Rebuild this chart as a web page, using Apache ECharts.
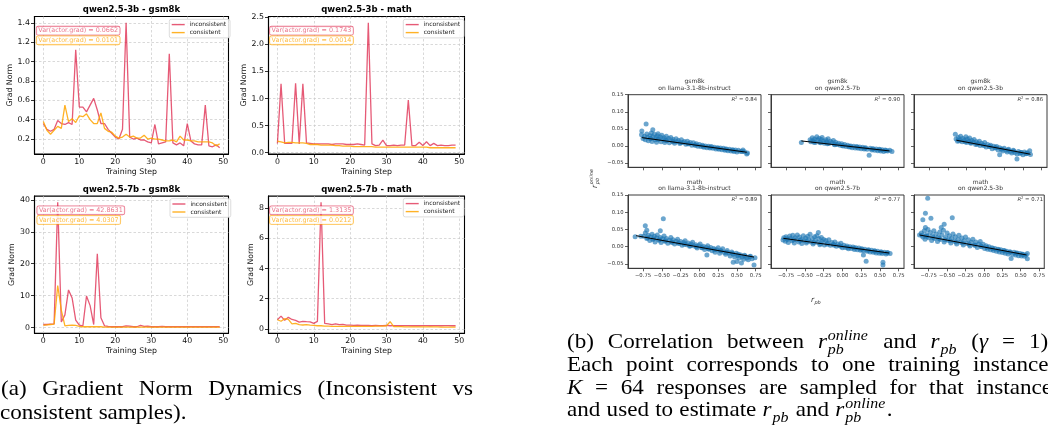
<!DOCTYPE html>
<html>
<head>
<meta charset="utf-8">
<script src="https://cdn.jsdelivr.net/npm/echarts@6.0.0/dist/echarts.min.js"></script>
<style>
html,body{margin:0;padding:0;background:#fff;}
#chart{width:1048px;height:433px;}
</style>
</head>
<body>
<div id="chart"></div>
<script>
// ================= DATA: gradient-norm panels =================
const steps = Array.from({length: 50}, (_, i) => i);
const stepTicks = [0, 10, 20, 30, 40, 50];

const qwen3bGsmInconsistent = [0.36,0.30,0.28,0.30,0.39,0.36,0.35,0.37,0.35,1.12, 0.53,0.53,0.48,0.55,0.62,0.50,0.36,0.36,0.30,0.26, 0.22,0.20,0.30,1.40,0.22,0.20,0.21,0.19,0.19,0.17, 0.16,0.35,0.15,0.16,0.17,1.08,0.16,0.14,0.16,0.13, 0.36,0.18,0.15,0.14,0.14,0.55,0.13,0.12,0.14,0.11];
const qwen3bGsmConsistent = [0.38,0.29,0.25,0.29,0.33,0.31,0.55,0.38,0.41,0.37, 0.44,0.43,0.46,0.40,0.36,0.36,0.47,0.31,0.28,0.27, 0.23,0.21,0.22,0.25,0.22,0.23,0.21,0.21,0.24,0.20, 0.21,0.20,0.20,0.19,0.18,0.18,0.19,0.17,0.23,0.19, 0.19,0.18,0.18,0.17,0.17,0.17,0.17,0.16,0.13,0.15];
const qwen3bMathInconsistent = [0.17,1.27,0.17,0.17,0.17,1.28,0.16,1.27,0.18,0.17, 0.16,0.16,0.16,0.16,0.16,0.15,0.16,0.16,0.16,0.15, 0.15,0.15,0.16,0.15,0.14,2.40,0.16,0.13,0.14,0.23, 0.13,0.13,0.14,0.13,0.14,0.14,0.97,0.13,0.13,0.19, 0.13,0.20,0.13,0.17,0.13,0.14,0.13,0.13,0.14,0.14];
const qwen3bMathConsistent = [0.21,0.20,0.18,0.19,0.19,0.18,0.18,0.18,0.17,0.15, 0.15,0.15,0.14,0.14,0.14,0.14,0.13,0.13,0.12,0.12, 0.12,0.11,0.11,0.11,0.11,0.11,0.11,0.10,0.10,0.10, 0.10,0.10,0.10,0.10,0.10,0.10,0.10,0.10,0.10,0.10, 0.10,0.10,0.09,0.09,0.09,0.09,0.09,0.09,0.09,0.09];
const qwen7bGsmInconsistent = [1.0,1.0,1.1,1.2,39.2,1.8,4.0,11.8,9.3,2.4, 0.8,0.6,9.9,6.9,1.0,23.1,3.1,0.6,0.4,0.3, 0.3,0.3,0.3,0.6,0.5,0.3,0.3,0.7,0.4,0.5, 0.3,0.3,0.3,0.4,0.3,0.3,0.3,0.3,0.3,0.3, 0.3,0.3,0.3,0.3,0.3,0.3,0.3,0.3,0.3,0.3];
const qwen7bGsmConsistent = [0.7,0.9,1.0,1.1,13.2,5.5,0.6,0.7,0.8,0.7, 0.4,0.3,0.3,0.3,0.3,0.3,0.3,0.2,0.2,0.2, 0.2,0.2,0.2,0.2,0.2,0.2,0.2,0.2,0.2,0.2, 0.2,0.2,0.2,0.2,0.2,0.2,0.2,0.2,0.2,0.2, 0.2,0.2,0.2,0.2,0.2,0.2,0.2,0.2,0.2,0.2];
const qwen7bMathInconsistent = [0.60,0.84,0.56,0.76,0.62,0.56,0.44,0.49,0.47,0.46, 0.36,0.49,8.40,0.36,0.33,0.27,0.33,0.27,0.29,0.24, 0.24,0.22,0.24,0.23,0.22,0.22,0.21,0.22,0.21,0.21, 0.22,0.20,0.21,0.21,0.20,0.21,0.21,0.20,0.21,0.20, 0.21,0.21,0.20,0.21,0.21,0.20,0.21,0.21,0.20,0.20];
const qwen7bMathConsistent = [0.60,0.50,0.67,0.62,0.33,0.36,0.27,0.25,0.27,0.24, 0.22,0.20,0.20,0.18,0.17,0.16,0.16,0.16,0.16,0.16, 0.16,0.16,0.16,0.16,0.16,0.16,0.16,0.17,0.18,0.18, 0.20,0.47,0.15,0.14,0.14,0.13,0.13,0.13,0.13,0.13, 0.12,0.12,0.12,0.12,0.12,0.11,0.11,0.11,0.11,0.11];

const gradTitles = ['qwen2.5-3b - gsm8k', 'qwen2.5-3b - math', 'qwen2.5-7b - gsm8k', 'qwen2.5-7b - math'];
const varInconsistent = ['0.0662', '0.1743', '42.8631', '1.3135'];
const varConsistent = ['0.0101', '0.0014', '4.0307', '0.0212'];
const yTicks3bGsm = [0.2, 0.4, 0.6, 0.8, 1.0, 1.2, 1.4];
const yTicks3bMath = [0.0, 0.5, 1.0, 1.5, 2.0, 2.5];
const yTicks7bGsm = [0, 10, 20, 30, 40];
const yTicks7bMath = [0, 2, 4, 6, 8];

// ================= DATA: correlation panels =================
const corrTitles = [
  ['gsm8k', 'on llama-3.1-8b-instruct'], ['gsm8k', 'on qwen2.5-7b'], ['gsm8k', 'on qwen2.5-3b'],
  ['math', 'on llama-3.1-8b-instruct'], ['math', 'on qwen2.5-7b'], ['math', 'on qwen2.5-3b']
];
const r2Values = ['0.84', '0.90', '0.86', '0.89', '0.77', '0.71'];
const rpbTicks = [-0.75, -0.50, -0.25, 0.00, 0.25, 0.50, 0.75];
const onlineTicks = [-0.05, 0.00, 0.05, 0.10, 0.15];

const ptsGsmLlama = [[-0.77,0.033],[-0.766,0.044],[-0.709,0.064],[-0.62,0.047],[-0.75,0.022],[-0.73,0.028],[-0.72,0.018],[-0.70,0.035],[-0.69,0.025],[-0.68,0.015],[-0.66,0.030],[-0.65,0.021],[-0.64,0.038],[-0.63,0.013],[-0.62,0.027],[-0.60,0.034],[-0.59,0.018],[-0.58,0.024],[-0.57,0.011],[-0.56,0.030],[-0.55,0.036],[-0.54,0.020],[-0.52,0.026],[-0.51,0.012],[-0.50,0.031],[-0.48,0.019],[-0.47,0.024],[-0.46,0.010],[-0.44,0.028],[-0.43,0.016],[-0.41,0.022],[-0.40,0.009],[-0.38,0.025],[-0.36,0.014],[-0.35,0.019],[-0.33,0.008],[-0.31,0.021],[-0.30,0.012],[-0.28,0.016],[-0.26,0.007],[-0.24,0.018],[-0.22,0.010],[-0.20,0.013],[-0.18,0.005],[-0.16,0.014],[-0.14,0.006],[-0.12,0.010],[-0.10,0.002],[-0.08,0.009],[-0.06,0.003],[-0.04,0.006],[-0.02,-0.001],[0.00,0.004],[0.02,-0.002],[0.04,0.002],[0.06,-0.004],[0.08,0.000],[0.10,-0.005],[0.12,-0.001],[0.14,-0.006],[0.16,-0.002],[0.18,-0.007],[0.20,-0.004],[0.22,-0.009],[0.24,-0.005],[0.26,-0.010],[0.28,-0.006],[0.30,-0.011],[0.32,-0.007],[0.34,-0.013],[0.36,-0.009],[0.38,-0.014],[0.40,-0.010],[0.42,-0.015],[0.44,-0.011],[0.46,-0.016],[0.48,-0.012],[0.50,-0.018],[0.52,-0.013],[0.55,-0.016],[0.58,-0.012],[0.60,-0.017],[0.63,-0.024],[0.64,-0.021],
  [-0.65,0.022],[-0.55,0.019],[-0.45,0.016],[-0.35,0.012],[-0.25,0.009],[-0.15,0.006],[-0.05,0.002],[0.05,-0.001],[0.15,-0.004],[0.25,-0.007],[0.35,-0.010],[0.45,-0.013],[0.57,-0.016]];
const ptsGsmQwen7 = [[-0.546,0.0097],[-0.43,0.018],[-0.42,0.012],[-0.40,0.024],[-0.39,0.015],[-0.37,0.020],[-0.36,0.010],[-0.34,0.027],[-0.33,0.017],[-0.31,0.022],[-0.30,0.011],[-0.28,0.019],[-0.27,0.025],[-0.25,0.014],[-0.24,0.008],[-0.22,0.018],[-0.21,0.012],[-0.19,0.021],[-0.18,0.007],[-0.16,0.014],[-0.14,0.010],[-0.12,0.016],[-0.11,0.005],[-0.09,0.011],[-0.07,0.004],[-0.05,0.008],[-0.03,0.002],[-0.01,0.006],[0.01,0.000],[0.03,0.004],[0.05,-0.002],[0.07,0.002],[0.09,-0.003],[0.11,0.000],[0.13,-0.005],[0.15,-0.001],[0.17,-0.006],[0.19,-0.002],[0.21,-0.007],[0.23,-0.003],[0.25,-0.008],[0.27,-0.004],[0.29,-0.009],[0.31,-0.005],[0.33,-0.010],[0.356,-0.027],[0.37,-0.007],[0.39,-0.012],[0.41,-0.008],[0.43,-0.013],[0.45,-0.009],[0.47,-0.014],[0.49,-0.010],[0.51,-0.015],[0.53,-0.011],[0.55,-0.016],[0.57,-0.012],[0.60,-0.015],[0.63,-0.013],[0.66,-0.016],
  [-0.38,0.011],[-0.29,0.009],[-0.20,0.006],[-0.10,0.0035],[0.00,0.001],[0.10,-0.0015],[0.20,-0.004],[0.30,-0.0065],[0.40,-0.009],[0.50,-0.0115],[0.58,-0.0135]];
const ptsGsmQwen3 = [[-0.40,0.034],[-0.39,0.020],[-0.37,0.014],[-0.36,0.025],[-0.34,0.018],[-0.33,0.028],[-0.31,0.012],[-0.30,0.022],[-0.28,0.017],[-0.26,0.027],[-0.25,0.010],[-0.24,0.020],[-0.22,0.014],[-0.21,0.023],[-0.19,0.008],[-0.18,0.016],[-0.16,0.011],[-0.15,0.019],[-0.13,0.004],[-0.12,0.012],[-0.10,0.007],[-0.08,0.014],[-0.07,0.001],[-0.05,0.008],[-0.03,0.003],[-0.01,0.010],[0.01,-0.003],[0.03,0.004],[0.05,-0.002],[0.07,0.002],[0.09,-0.008],[0.11,-0.001],[0.13,-0.006],[0.15,-0.002],[0.17,-0.012],[0.19,-0.026],[0.19,-0.005],[0.21,-0.010],[0.23,-0.015],[0.25,-0.007],[0.27,-0.013],[0.29,-0.018],[0.31,-0.010],[0.33,-0.016],[0.35,-0.021],[0.37,-0.013],[0.39,-0.019],[0.42,-0.038],[0.42,-0.024],[0.44,-0.016],[0.46,-0.022],[0.48,-0.019],[0.50,-0.026],[0.52,-0.018],[0.54,-0.023],[0.56,-0.020],[0.59,-0.014],[0.60,-0.025],
  [-0.35,0.015],[-0.27,0.012],[-0.20,0.009],[-0.11,0.005],[-0.02,0.001],[0.06,-0.002],[0.14,-0.005],[0.22,-0.009],[0.30,-0.012],[0.38,-0.015],[0.47,-0.019],[0.55,-0.022]];
const ptsMathLlama = [[-0.855,0.029],[-0.72,0.061],[-0.48,0.081],[-0.52,0.046],[-0.70,0.048],[-0.74,0.030],[-0.72,0.040],[-0.70,0.024],[-0.68,0.033],[-0.66,0.018],[-0.65,0.028],[-0.63,0.036],[-0.62,0.021],[-0.60,0.030],[-0.59,0.014],[-0.57,0.025],[-0.56,0.034],[-0.54,0.019],[-0.52,0.027],[-0.51,0.012],[-0.49,0.023],[-0.47,0.031],[-0.46,0.016],[-0.44,0.024],[-0.42,0.010],[-0.40,0.019],[-0.38,0.027],[-0.37,0.013],[-0.35,0.020],[-0.33,0.008],[-0.31,0.016],[-0.29,0.022],[-0.27,0.010],[-0.25,0.015],[-0.23,0.004],[-0.21,0.012],[-0.19,0.017],[-0.17,0.006],[-0.15,0.011],[-0.13,0.001],[-0.11,0.008],[-0.09,0.013],[-0.07,0.002],[-0.05,0.006],[-0.03,-0.004],[-0.01,0.003],[0.01,0.008],[0.03,-0.003],[0.05,0.001],[0.07,-0.008],[0.09,-0.002],[0.10,-0.024],[0.11,0.003],[0.13,-0.007],[0.15,-0.002],[0.17,-0.012],[0.19,-0.005],[0.21,-0.016],[0.23,-0.009],[0.25,-0.003],[0.27,-0.019],[0.29,-0.012],[0.31,-0.006],[0.33,-0.017],[0.35,-0.022],[0.37,-0.011],[0.39,-0.018],[0.41,-0.027],[0.43,-0.015],[0.45,-0.045],[0.45,-0.022],[0.47,-0.030],[0.50,-0.043],[0.49,-0.019],[0.51,-0.026],[0.53,-0.033],[0.56,-0.047],[0.55,-0.024],[0.57,-0.030],[0.59,-0.036],[0.61,-0.027],[0.63,-0.033],[0.65,-0.038],[0.67,-0.029],[0.70,-0.035],[0.727,-0.053],[0.74,-0.032],
  [-0.78,0.030],[-0.69,0.026],[-0.61,0.023],[-0.53,0.020],[-0.45,0.017],[-0.36,0.013],[-0.28,0.010],[-0.20,0.007],[-0.12,0.003],[-0.04,0.000],[0.04,-0.003],[0.12,-0.006],[0.20,-0.009],[0.28,-0.012],[0.36,-0.016],[0.44,-0.019],[0.52,-0.022],[0.60,-0.025],[0.68,-0.028]];
const ptsMathQwen7 = [[-0.79,0.0195],[-0.78,0.026],[-0.76,0.016],[-0.75,0.029],[-0.73,0.021],[-0.72,0.012],[-0.70,0.031],[-0.69,0.024],[-0.67,0.017],[-0.66,0.033],[-0.64,0.011],[-0.63,0.026],[-0.61,0.020],[-0.60,0.034],[-0.58,0.014],[-0.57,0.028],[-0.55,0.021],[-0.54,0.009],[-0.52,0.032],[-0.51,0.018],[-0.49,0.025],[-0.48,0.011],[-0.46,0.030],[-0.45,0.020],[-0.43,0.036],[-0.42,0.014],[-0.40,0.024],[-0.39,0.008],[-0.37,0.029],[-0.36,0.018],[-0.34,0.032],[-0.32,0.041],[-0.33,0.012],[-0.31,0.023],[-0.30,0.006],[-0.28,0.027],[-0.27,0.015],[-0.25,0.021],[-0.24,0.005],[-0.22,0.018],[-0.20,0.010],[-0.18,0.020],[-0.16,0.004],[-0.14,0.012],[-0.12,0.007],[-0.10,0.014],[-0.08,0.001],[-0.06,0.008],[-0.04,0.003],[-0.02,0.010],[0.00,-0.003],[0.02,0.004],[0.04,-0.002],[0.06,0.002],[0.08,-0.006],[0.10,0.000],[0.12,-0.005],[0.14,-0.001],[0.16,-0.008],[0.18,-0.003],[0.20,-0.009],[0.22,-0.004],[0.24,-0.010],[0.26,-0.006],[0.28,-0.024],[0.28,-0.012],[0.30,-0.007],[0.316,-0.042],[0.33,-0.013],[0.35,-0.009],[0.37,-0.015],[0.39,-0.010],[0.41,-0.016],[0.43,-0.012],[0.45,-0.018],[0.47,-0.013],[0.49,-0.019],[0.51,-0.015],[0.54,-0.053],[0.54,-0.045],[0.53,-0.020],[0.56,-0.016],[0.58,-0.021],[0.60,-0.017],[0.635,-0.020],
  [-0.74,0.023],[-0.65,0.020],[-0.56,0.018],[-0.47,0.015],[-0.38,0.012],[-0.29,0.009],[-0.20,0.007],[-0.11,0.004],[-0.02,0.001],[0.07,-0.002],[0.16,-0.004],[0.25,-0.007],[0.34,-0.010],[0.43,-0.013],[0.52,-0.015],[0.60,-0.018]];
const ptsMathQwen3 = [[-0.764,0.1407],[-0.795,0.097],[-0.83,0.078],[-0.72,0.0825],[-0.795,0.056],[-0.43,0.084],[-0.54,0.065],[-0.58,0.056],[-0.79,0.030],[0.37,-0.034],[0.59,-0.035],[-0.875,0.034],[-0.85,0.040],[-0.83,0.028],[-0.81,0.046],[-0.80,0.022],[-0.78,0.035],[-0.76,0.050],[-0.75,0.026],[-0.73,0.041],[-0.71,0.018],[-0.70,0.032],[-0.68,0.046],[-0.67,0.024],[-0.65,0.037],[-0.63,0.015],[-0.62,0.029],[-0.60,0.043],[-0.59,0.021],[-0.57,0.034],[-0.55,0.048],[-0.54,0.014],[-0.52,0.027],[-0.50,0.040],[-0.49,0.019],[-0.47,0.032],[-0.45,0.011],[-0.44,0.024],[-0.42,0.037],[-0.40,0.016],[-0.39,0.029],[-0.37,0.008],[-0.35,0.021],[-0.34,0.033],[-0.32,0.013],[-0.30,0.025],[-0.28,0.005],[-0.27,0.017],[-0.25,0.028],[-0.23,0.009],[-0.21,0.020],[-0.19,0.002],[-0.17,0.013],[-0.15,0.022],[-0.13,0.005],[-0.11,0.014],[-0.09,-0.002],[-0.07,0.008],[-0.05,0.015],[-0.03,0.000],[-0.01,0.007],[0.01,-0.005],[0.03,0.003],[0.05,-0.007],[0.07,0.000],[0.09,-0.009],[0.11,-0.003],[0.13,-0.011],[0.15,-0.005],[0.17,-0.013],[0.19,-0.007],[0.21,-0.015],[0.23,-0.009],[0.25,-0.017],[0.27,-0.011],[0.29,-0.019],[0.31,-0.013],[0.33,-0.021],[0.35,-0.015],[0.39,-0.022],[0.41,-0.016],[0.43,-0.024],[0.45,-0.018],[0.47,-0.026],[0.49,-0.020],[0.51,-0.027],[0.53,-0.022],[0.55,-0.028],[0.57,-0.024],[0.59,-0.020],
  [-0.84,0.033],[-0.77,0.030],[-0.69,0.027],[-0.61,0.024],[-0.53,0.020],[-0.46,0.017],[-0.38,0.014],[-0.29,0.011],[-0.20,0.007],[-0.12,0.004],[-0.04,0.001],[0.04,-0.002],[0.12,-0.006],[0.20,-0.009],[0.28,-0.012],[0.36,-0.015],[0.44,-0.019],[0.52,-0.022]];

const fitGsmLlama = [[-0.766, 0.0243], [0.630, -0.0185]];
const fitGsmQwen7 = [[-0.546, 0.0146], [0.626, -0.0146]];
const fitGsmQwen3 = [[-0.386, 0.0167], [0.600, -0.0243]];
const fitMathLlama = [[-0.842, 0.0320], [0.727, -0.0300]];
const fitMathQwen7 = [[-0.786, 0.0244], [0.622, -0.0183]];
const fitMathQwen3 = [[-0.875, 0.0340], [0.580, -0.0240]];

// ================= STYLE / LAYOUT =================
const SANS = 'DejaVu Sans';
const SERIF = '"Liberation Serif", "Times New Roman", serif';
const C_INC = 'rgba(220,20,60,0.7)';
const C_CON = 'rgba(255,165,0,0.85)';
const C_INC_TXT = 'rgba(220,20,60,0.6)';
const C_CON_TXT = 'rgba(255,165,0,0.75)';
const C_DOT = 'rgba(31,119,180,0.82)';

const gradPanels = [
  {grid: {left: 34.5, top: 16.5, width: 194, height: 137.5}, ymin: 0.0455, ymax: 1.4645, ticks: yTicks3bGsm, dec: 1, inc: qwen3bGsmInconsistent, con: qwen3bGsmConsistent, nameGap: 19.5, varX: 36.7, varY: 30.7, legX: 169.3, legY: 19.3},
  {grid: {left: 268.5, top: 16.5, width: 196, height: 137.5}, ymin: -0.0255, ymax: 2.5155, ticks: yTicks3bMath, dec: 1, inc: qwen3bMathInconsistent, con: qwen3bMathConsistent, nameGap: 20.5, varX: 270, varY: 30.7, legX: 403.3, legY: 19.3},
  {grid: {left: 34.5, top: 196.1, width: 194, height: 137.2}, ymin: -1.75, ymax: 41.15, ticks: yTicks7bGsm, dec: 0, inc: qwen7bGsmInconsistent, con: qwen7bGsmConsistent, nameGap: 18.5, varX: 37.3, varY: 210.3, legX: 170, legY: 198.7},
  {grid: {left: 268.5, top: 196.1, width: 196, height: 137.2}, ymin: -0.30, ymax: 8.81, ticks: yTicks7bMath, dec: 0, inc: qwen7bMathInconsistent, con: qwen7bMathConsistent, nameGap: 13.5, varX: 270, varY: 210.3, legX: 403.3, legY: 198.3}
];

const corrPanels = [
  {grid: {left: 628, top: 94.7, width: 133, height: 72.6}, pts: ptsGsmLlama, fit: fitGsmLlama, xl: false, yl: true},
  {grid: {left: 771, top: 94.7, width: 133, height: 72.6}, pts: ptsGsmQwen7, fit: fitGsmQwen7, xl: false, yl: false},
  {grid: {left: 914, top: 94.7, width: 133, height: 72.6}, pts: ptsGsmQwen3, fit: fitGsmQwen3, xl: false, yl: false},
  {grid: {left: 628, top: 195, width: 133, height: 73.3}, pts: ptsMathLlama, fit: fitMathLlama, xl: true, yl: true},
  {grid: {left: 771, top: 195, width: 133, height: 73.3}, pts: ptsMathQwen7, fit: fitMathQwen7, xl: true, yl: false},
  {grid: {left: 914, top: 195, width: 133, height: 73.3}, pts: ptsMathQwen3, fit: fitMathQwen3, xl: true, yl: false}
];

const grids = [], xAxes = [], yAxes = [], series = [], legends = [], gfx = [];
const dashed = {color: '#c9c9c9', type: [2.5, 2], width: 0.7};
const fmtMinus = (v, d) => { const s = (Math.abs(v) < 1e-9 ? 0 : v).toFixed(d); return s.replace('-', '\u2212'); };

gradPanels.forEach((p, i) => {
  grids.push(Object.assign({show: true, borderColor: '#000', borderWidth: 1.1, backgroundColor: 'transparent'}, p.grid));
  xAxes.push({
    type: 'value', gridIndex: i, min: -2.45, max: 51.45,
    name: 'Training Step', nameLocation: 'middle', nameGap: 13.5,
    nameTextStyle: {fontSize: 7.8, fontFamily: SANS, color: '#111'},
    axisLine: {show: true, onZero: false, lineStyle: {color: '#000', width: 1.1}},
    axisTick: {show: true, length: 3.5, lineStyle: {color: '#000', width: 0.8}, customValues: stepTicks},
    axisLabel: {fontSize: 7.8, fontFamily: SANS, color: '#111', margin: 3.5, customValues: stepTicks, formatter: v => String(Math.round(v))},
    splitLine: {show: true, lineStyle: dashed}
  });
  yAxes.push({
    type: 'value', gridIndex: i, min: p.ymin, max: p.ymax,
    name: 'Grad Norm', nameLocation: 'middle', nameGap: p.nameGap,
    nameTextStyle: {fontSize: 7.8, fontFamily: SANS, color: '#111'},
    axisLine: {show: true, onZero: false, lineStyle: {color: '#000', width: 1.1}},
    axisTick: {show: true, length: 3.5, lineStyle: {color: '#000', width: 0.8}, customValues: p.ticks},
    axisLabel: {fontSize: 7.8, fontFamily: SANS, color: '#111', margin: 4.5, customValues: p.ticks, formatter: v => v.toFixed(p.dec)},
    splitLine: {show: true, lineStyle: dashed}
  });
  series.push({
    type: 'line', name: 'inconsistent', xAxisIndex: i, yAxisIndex: i, showSymbol: false, symbol: 'none', silent: true,
    data: steps.map((s, k) => [s, p.inc[k]]),
    lineStyle: {color: C_INC, width: 1.3}, itemStyle: {color: C_INC}, z: 3
  });
  series.push({
    type: 'line', name: 'consistent', xAxisIndex: i, yAxisIndex: i, showSymbol: false, symbol: 'none', silent: true,
    data: steps.map((s, k) => [s, p.con[k]]),
    lineStyle: {color: C_CON, width: 1.3}, itemStyle: {color: C_CON}, z: 3
  });
  legends.push({
    left: p.legX, top: p.legY, orient: 'vertical', data: ['inconsistent', 'consistent'],
    icon: 'rect', itemWidth: 13, itemHeight: 1.4, itemGap: 2, selectedMode: false,
    padding: [2.3, 4, 2.3, 2.4], backgroundColor: 'rgba(255,255,255,0.85)',
    borderColor: '#d3d3d3', borderWidth: 0.8, borderRadius: 2,
    textStyle: {fontSize: 6, fontFamily: SANS, color: '#222'}
  });
  const cx = p.grid.left + p.grid.width / 2;
  gfx.push({type: 'text', x: cx, y: p.grid.top - 6.5, z: 100, silent: true,
    style: {text: gradTitles[i], fontSize: 8.5, fontWeight: 'bold', fontFamily: SANS, fill: '#000', align: 'center', verticalAlign: 'middle'}});
  gfx.push({type: 'text', x: p.varX, y: p.varY, z: 100, silent: true,
    style: {text: 'Var(actor.grad) = ' + varInconsistent[i], fontSize: 6.4, fontFamily: SANS, fill: C_INC_TXT, align: 'left', verticalAlign: 'middle',
      backgroundColor: 'rgba(255,255,255,0.85)', borderColor: C_INC_TXT, borderWidth: 0.8, borderRadius: 1.5, padding: [1.2, 1.6, 0.9, 1.6]}});
  gfx.push({type: 'text', x: p.varX, y: p.varY + 9.6, z: 100, silent: true,
    style: {text: 'Var(actor.grad) = ' + varConsistent[i], fontSize: 6.4, fontFamily: SANS, fill: C_CON_TXT, align: 'left', verticalAlign: 'middle',
      backgroundColor: 'rgba(255,255,255,0.85)', borderColor: C_CON_TXT, borderWidth: 0.8, borderRadius: 1.5, padding: [1.2, 1.6, 0.9, 1.6]}});
});

corrPanels.forEach((p, j) => {
  const i = j + 4;
  grids.push(Object.assign({show: true, borderColor: '#3a3a3a', borderWidth: 1, backgroundColor: 'transparent'}, p.grid));
  xAxes.push({
    type: 'value', gridIndex: i, min: -0.95, max: 0.82,
    axisLine: {show: true, onZero: false, lineStyle: {color: '#3a3a3a', width: 1}},
    axisTick: {show: true, length: 3, lineStyle: {color: '#3a3a3a', width: 0.8}, customValues: rpbTicks},
    axisLabel: {show: p.xl, fontSize: 5.3, fontFamily: SANS, color: '#333', margin: 4.5, customValues: rpbTicks, formatter: v => fmtMinus(v, 2)},
    splitLine: {show: false}
  });
  yAxes.push({
    type: 'value', gridIndex: i, min: -0.0626, max: 0.15,
    axisLine: {show: true, onZero: false, lineStyle: {color: '#3a3a3a', width: 1}},
    axisTick: {show: true, length: 3, lineStyle: {color: '#3a3a3a', width: 0.8}, customValues: onlineTicks},
    axisLabel: {show: p.yl, fontSize: 5.3, fontFamily: SANS, color: '#333', margin: 4.5, customValues: onlineTicks, formatter: v => fmtMinus(v, 2)},
    splitLine: {show: false}
  });
  series.push({
    type: 'scatter', xAxisIndex: i, yAxisIndex: i, silent: true, symbolSize: 5,
    data: p.pts, itemStyle: {color: C_DOT}, z: 2
  });
  series.push({
    type: 'line', xAxisIndex: i, yAxisIndex: i, silent: true, showSymbol: false, symbol: 'none',
    data: p.fit, lineStyle: {color: '#000', width: 1}, z: 4
  });
  const cx = p.grid.left + p.grid.width / 2;
  const ty = p.grid.top;
  gfx.push({type: 'text', x: cx, y: ty - 12.8, z: 100, silent: true,
    style: {text: corrTitles[j][0], fontSize: 6, fontFamily: SANS, fill: '#333', align: 'center', verticalAlign: 'middle'}});
  gfx.push({type: 'text', x: cx, y: ty - 6.2, z: 100, silent: true,
    style: {text: corrTitles[j][1], fontSize: 6, fontFamily: SANS, fill: '#333', align: 'center', verticalAlign: 'middle'}});
  gfx.push({type: 'text', x: p.grid.left + p.grid.width - 4, y: ty + 5, z: 100, silent: true,
    style: {text: '{i|R}{s|2}{n| = ' + r2Values[j] + '}', align: 'right', verticalAlign: 'middle',
      rich: {i: {fontStyle: 'italic', fontSize: 5.3, fontFamily: SANS, fill: '#333'},
             s: {fontSize: 3.6, fontFamily: SANS, fill: '#333', padding: [0, 0, 3, 0]},
             n: {fontSize: 5.3, fontFamily: SANS, fill: '#333'}}}});
});

// axis labels for correlation grid
gfx.push({type: 'group', x: 595, y: 188, rotation: Math.PI / 2, silent: true, z: 100, children: [
  {type: 'text', x: 0, y: 0, style: {text: 'r', fontSize: 7.5, fontStyle: 'italic', fontFamily: SANS, fill: '#333', align: 'left', verticalAlign: 'middle'}},
  {type: 'text', x: 3.8, y: -3.4, style: {text: 'online', fontSize: 5, fontStyle: 'italic', fontFamily: SANS, fill: '#333', align: 'left', verticalAlign: 'middle'}},
  {type: 'text', x: 3.8, y: 2.8, style: {text: 'pb', fontSize: 5, fontStyle: 'italic', fontFamily: SANS, fill: '#333', align: 'left', verticalAlign: 'middle'}}
]});
gfx.push({type: 'group', x: 811, y: 300.5, silent: true, z: 100, children: [
  {type: 'text', x: 0, y: 0, style: {text: 'r', fontSize: 7.5, fontStyle: 'italic', fontFamily: SANS, fill: '#333', align: 'left', verticalAlign: 'middle'}},
  {type: 'text', x: 3.4, y: 2.6, style: {text: 'pb', fontSize: 5, fontStyle: 'italic', fontFamily: SANS, fill: '#333', align: 'left', verticalAlign: 'middle'}}
]});

// ================= CAPTIONS =================
const FS = 21, SS = 14.5, SX = 1.1;
const mctx = document.createElement('canvas').getContext('2d');
function tw(t, sz, it) { mctx.font = (it ? 'italic ' : '') + sz + 'px ' + SERIF; return mctx.measureText(t).width * SX; }
function pieceW(p) {
  if (p.ss) return Math.max(tw(p.ss[0], SS, true), tw(p.ss[1], SS, true)) + 1.5;
  return tw(p.t, p.sz || FS, p.it) + (p.after || 0);
}
function emitPiece(p, x, base) {
  const mk = (t, it, sz, dy) => gfx.push({type: 'text', x: x, y: base + dy - 0.3375 * sz, scaleX: SX, z: 100, silent: true,
    style: {text: t, fontSize: sz, fontStyle: it ? 'italic' : 'normal', fontFamily: SERIF, fill: '#000', align: 'left', verticalAlign: 'middle'}});
  if (p.ss) { mk(p.ss[0], true, SS, -9); mk(p.ss[1], true, SS, 4.8); }
  else mk(p.t, p.it, p.sz || FS, p.dy || 0);
}
function words(str) { return str.split(' ').map(w => [{t: w}]); }
function layoutLine(ws, x0, base, rightEdge) {
  const widths = ws.map(w => w.reduce((s, p) => s + pieceW(p), 0));
  const total = widths.reduce((a, b) => a + b, 0);
  let gap = 0.27 * FS * SX;
  if (rightEdge) gap = (rightEdge - x0 - total) / (ws.length - 1);
  let x = x0;
  ws.forEach(w => { w.forEach(p => { emitPiece(p, x, base); x += pieceW(p); }); x += gap; });
}
const rSub = [{t: 'r', it: true, after: 1}, {t: 'pb', it: true, sz: SS, dy: 4.8, after: 1}];
const rSupSub = [{t: 'r', it: true, after: 1}, {ss: ['online', 'pb']}];

layoutLine(words('(a) Gradient Norm Dynamics (Inconsistent vs'), 1, 397, 473);
layoutLine(words('consistent samples).'), 0, 421, null);

layoutLine([[{t: '(b)'}], [{t: 'Correlation'}], [{t: 'between'}], rSupSub, [{t: 'and'}], rSub,
  [{t: '('}, {t: '\u03b3', it: true}], [{t: '='}], [{t: '1).'}]], 567, 350, 1054);
layoutLine(words('Each point corresponds to one training instance;'), 567, 373, 1055);
layoutLine([[{t: 'K', it: true}], [{t: '='}], [{t: '64'}]].concat(words('responses are sampled for that instance')), 567, 396, 1052);
layoutLine(words('and used to estimate').concat([rSub, [{t: 'and'}], rSupSub.concat([{t: '.'}])]), 567, 418, null);

// ================= CHART =================
const chart = echarts.init(document.getElementById('chart'), null, {renderer: 'canvas'});
chart.setOption({
  animation: false,
  backgroundColor: '#fff',
  grid: grids, xAxis: xAxes, yAxis: yAxes, legend: legends, series: series,
  graphic: {elements: gfx}
});
</script>
</body>
</html>
